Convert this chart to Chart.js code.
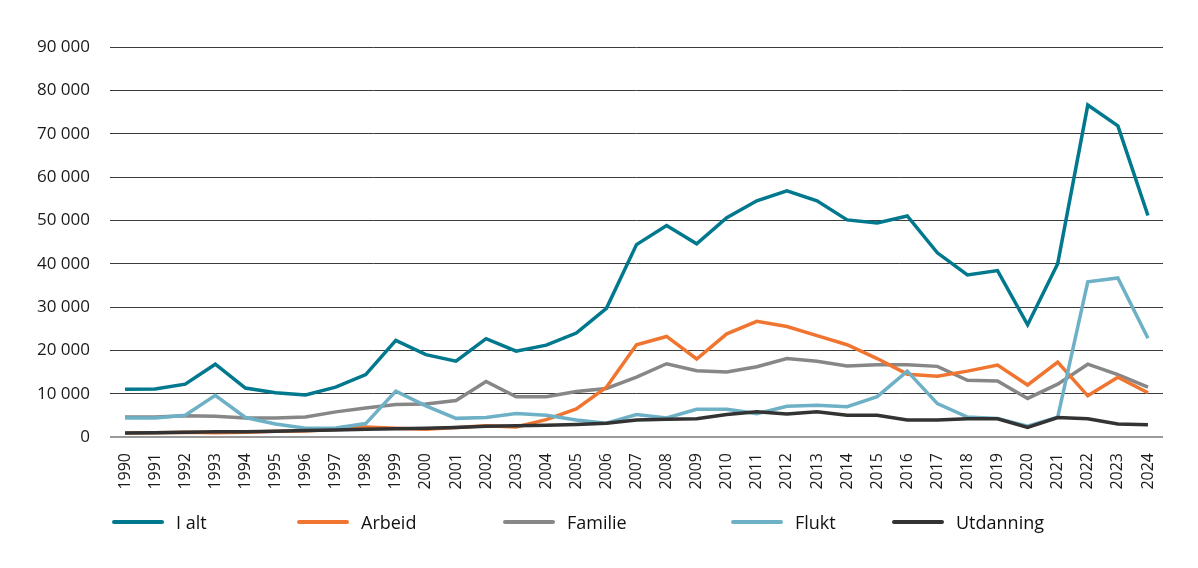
<!DOCTYPE html>
<html>
<head>
<meta charset="utf-8">
<script src="https://cdn.jsdelivr.net/npm/chart.js@4/dist/chart.umd.min.js"></script>
<style>
  body { margin: 0; background: #fff; }
  #wrap { position: relative; width: 1198px; height: 568px; }
  #legend { position: absolute; top: 507px; left: 0; width: 1198px; height: 30px;
            font-family: "Open Sans", sans-serif; font-size: 18px; color: #111; }
  .item { position: absolute; top: 0; height: 30px; display: flex; align-items: center; }
  .swatch { width: 52px; height: 4px; border-radius: 2px; margin-right: 12px; }
</style>
</head>
<body>
<div id="wrap">
  <canvas id="chart"></canvas>
  <div id="legend"></div>
</div>
<script>
const years = ['1990','1991','1992','1993','1994','1995','1996','1997','1998','1999',
  '2000','2001','2002','2003','2004','2005','2006','2007','2008','2009',
  '2010','2011','2012','2013','2014','2015','2016','2017','2018','2019',
  '2020','2021','2022','2023','2024'];

const iAlt = [11000, 11100, 12200, 16800, 11300, 10200, 9700, 11500, 14400, 22300,
  19000, 17500, 22700, 19800, 21200, 24000, 29700, 44400, 48800, 44600,
  50600, 54500, 56800, 54500, 50100, 49400, 51000, 42500, 37400, 38400,
  25900, 40000, 76600, 71800, 51100];

const arbeid = [900, 1000, 1100, 1000, 1100, 1300, 1400, 1800, 2300, 2000,
  1800, 2200, 2600, 2300, 4000, 6500, 11500, 21300, 23200, 18000,
  23800, 26700, 25500, 23400, 21300, 18100, 14500, 14000, 15200, 16600,
  12000, 17300, 9500, 13800, 10200];

const familie = [4600, 4600, 4900, 4800, 4400, 4400, 4600, 5800, 6700, 7500,
  7600, 8400, 12800, 9300, 9300, 10500, 11200, 13800, 16900, 15300,
  15000, 16200, 18100, 17500, 16400, 16700, 16700, 16300, 13100, 12900,
  8900, 12200, 16800, 14400, 11500];

const flukt = [4400, 4400, 5000, 9600, 4500, 3000, 2000, 2100, 3100, 10600,
  7200, 4300, 4500, 5400, 5000, 3900, 3200, 5200, 4400, 6400,
  6400, 5400, 7100, 7300, 7000, 9300, 15200, 7700, 4600, 4300,
  2500, 4600, 35800, 36700, 22800];

const utdanning = [900, 1000, 1100, 1200, 1200, 1300, 1500, 1600, 1800, 1900,
  2000, 2200, 2500, 2600, 2700, 2900, 3200, 3900, 4100, 4200,
  5200, 5800, 5300, 5800, 5000, 5000, 3900, 3900, 4200, 4200,
  2200, 4500, 4200, 3000, 2800];

const yTicks = [0, 10000, 20000, 30000, 40000, 50000, 60000, 70000, 80000, 90000];

const seriesNames = ['I alt', 'Arbeid', 'Familie', 'Flukt', 'Utdanning'];
const seriesData = [iAlt, arbeid, familie, flukt, utdanning];
const seriesColors = ['#00788D', '#F07530', '#878787', '#6EB1C6', '#333333'];
const drawOrder = [1, 3, 4, 2, 0];
const legendLeft = [112, 297, 503, 731, 892];

const fmt = v => String(v).replace(/\B(?=(\d{3})+(?!\d))/g, ' ');

const ctx = document.getElementById('chart').getContext('2d');
const chart = new Chart(ctx, {
  type: 'line',
  data: {
    labels: years,
    datasets: seriesNames.map((name, i) => ({
      label: name,
      data: seriesData[i],
      borderColor: seriesColors[i],
      backgroundColor: seriesColors[i],
      borderWidth: 3.5,
      pointRadius: 0,
      tension: 0,
      order: drawOrder[i]
    }))
  },
  options: {
    responsive: true,
    maintainAspectRatio: false,
    animation: false,
    layout: { padding: { top: 47, right: 35, left: 0, bottom: 0 } },
    plugins: {
      legend: { display: false },
      tooltip: { enabled: false }
    },
    scales: {
      x: {
        offset: true,
        grid: { display: false },
        border: { display: false },
        ticks: {
          autoSkip: false,
          minRotation: 90,
          maxRotation: 90,
          padding: 8,
          color: '#1a1a1a',
          font: { family: 'Open Sans', size: 16 }
        },
        afterFit: s => { s.height = 131; }
      },
      y: {
        min: 0,
        max: 90000,
        afterBuildTicks: s => { s.ticks = yTicks.map(v => ({ value: v })); },
        grid: {
          drawTicks: false,
          color: c => c.tick && c.tick.value === 0 ? '#9a9a9a' : '#3c3c3c',
          lineWidth: c => c.tick && c.tick.value === 0 ? 2 : 1
        },
        border: { display: false },
        ticks: {
          padding: 20,
          color: '#1a1a1a',
          font: { family: 'Open Sans', size: 17 },
          callback: v => fmt(v)
        },
        afterFit: s => { s.width = 110; }
      }
    }
  }
});

const legend = document.getElementById('legend');
seriesNames.forEach((name, i) => {
  const item = document.createElement('div');
  item.className = 'item';
  item.style.left = legendLeft[i] + 'px';
  const sw = document.createElement('span');
  sw.className = 'swatch';
  sw.style.background = seriesColors[i];
  const tx = document.createElement('span');
  tx.textContent = name;
  item.appendChild(sw);
  item.appendChild(tx);
  legend.appendChild(item);
});
</script>
</body>
</html>
